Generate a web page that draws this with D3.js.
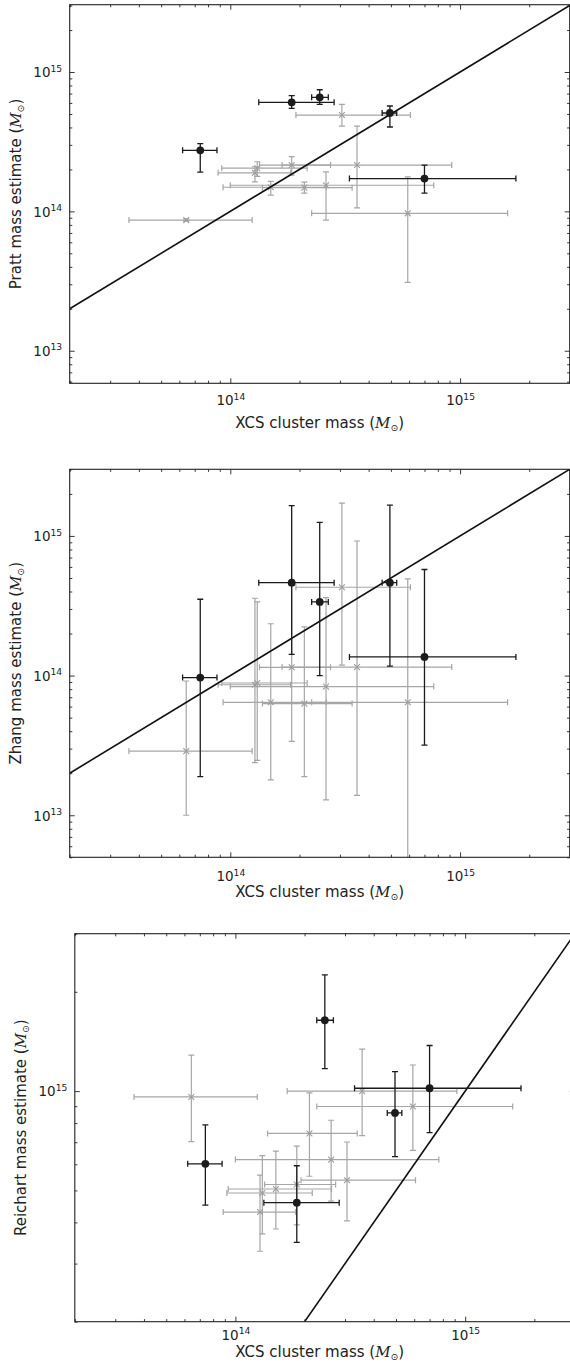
<!DOCTYPE html>
<html>
<head>
<meta charset="utf-8">
<script src="https://cdn.jsdelivr.net/npm/d3@7"></script>
<style>
  html, body { margin: 0; padding: 0; background: #fff; }
  svg { display: block; }
</style>
</head>
<body>
<script>
// ---- XCS cluster masses (shared by all three panels) ----
// clusters drawn as filled circles
const xcsBlack   = [7.40e13, 1.85e14, 2.45e14, 4.95e14, 7.00e14];
const xcsBlackLo = [6.20e13, 1.33e14, 2.26e14, 4.58e14, 3.30e14];
const xcsBlackHi = [8.75e13, 2.83e14, 2.67e14, 5.30e14, 1.75e15];
// clusters drawn as crosses
const xcsGray   = [6.43e13, 1.28e14, 1.31e14, 1.50e14, 1.85e14, 2.10e14, 2.61e14, 3.06e14, 3.56e14, 5.92e14];
const xcsGrayLo = [3.62e13, 8.85e13, 9.18e13, 9.30e13, 1.34e14, 1.38e14, 1.00e14, 1.93e14, 1.68e14, 2.26e14];
const xcsGrayHi = [1.245e14, 1.83e14, 2.16e14, 2.62e14, 2.73e14, 3.39e14, 7.68e14, 6.08e14, 9.20e14, 1.61e15];

// ---- Pratt estimates ----
const prattBlack   = [2.74e14, 6.06e14, 6.58e14, 5.08e14, 1.72e14];
const prattBlackLo = [1.91e14, 5.48e14, 5.86e14, 4.03e14, 1.35e14];
const prattBlackHi = [3.06e14, 6.76e14, 7.46e14, 5.70e14, 2.15e14];
const prattGray    = [8.66e13, 1.89e14, 2.04e14, 1.49e14, 2.15e14, 1.48e14, 1.54e14, 4.91e14, 2.15e14, 9.68e13];
const prattGrayLo  = [8.50e13, 1.63e14, 1.78e14, 1.31e14, 1.82e14, 1.35e14, 8.66e13, 4.09e14, 1.06e14, 3.09e13];
const prattGrayHi  = [8.85e13, 2.09e14, 2.27e14, 1.64e14, 2.47e14, 1.62e14, 1.92e14, 5.86e14, 4.09e14, 1.77e14];

// ---- Zhang estimates ----
const zhangBlack   = [9.68e13, 4.63e14, 3.37e14, 4.63e14, 1.36e14];
const zhangBlackLo = [1.89e13, 1.42e14, 1.00e14, 1.17e14, 3.18e13];
const zhangBlackHi = [3.52e14, 1.65e15, 1.25e15, 1.66e15, 5.75e14];
const zhangGray    = [2.88e13, 8.60e13, 8.85e13, 6.44e13, 1.147e14, 6.30e13, 8.34e13, 4.29e14, 1.15e14, 6.44e13];
const zhangGrayLo  = [1.00e13, 2.38e13, 2.47e13, 1.79e13, 3.38e13, 1.89e13, 1.29e13, 1.19e14, 1.39e13, 1.00e12];
const zhangGrayHi  = [9.15e13, 3.58e14, 3.37e14, 2.35e14, 4.42e14, 2.23e14, 3.62e14, 1.72e15, 9.20e14, 4.92e14];

// ---- Reichart estimates ----
const reichBlack   = [6.02e14, 4.59e14, 1.64e15, 8.59e14, 1.02e15];
const reichBlackLo = [4.51e14, 3.48e14, 1.17e15, 6.33e14, 7.48e14];
const reichBlackHi = [7.90e14, 5.94e14, 2.25e15, 1.145e15, 1.375e15];
const reichGray    = [9.60e14, 4.30e14, 4.91e14, 5.05e14, 5.21e14, 7.44e14, 6.20e14, 5.37e14, 1.00e15, 8.98e14];
const reichGrayLo  = [7.03e14, 3.27e14, 3.69e14, 3.82e14, 3.93e14, 5.52e14, 4.64e14, 4.04e14, 7.33e14, 6.61e14];
const reichGrayHi  = [1.286e15, 5.56e14, 6.37e14, 6.58e14, 6.81e14, 9.88e14, 8.16e14, 7.01e14, 1.34e15, 1.20e15];

// ---- axis text ----
const xTitle = "XCS cluster mass";
const yTitles = ["Pratt mass estimate", "Zhang mass estimate", "Reichart mass estimate"];
const xDomain = [2e13, 3e15];
const oneToOne = [2e13, 3e15];   // endpoints of the y = x relation

// ---- panel layout ----
const panels = [
  { title: yTitles[0], left: 69.7, right: 569.7, top: 4.7,   bottom: 383.3,  yDomain: [5.84e12, 3.04e15],
    tickBase: 22, titleBase: 45,
    black: [prattBlack, prattBlackLo, prattBlackHi], gray: [prattGray, prattGrayLo, prattGrayHi] },
  { title: yTitles[1], left: 69.7, right: 569.7, top: 469.3, bottom: 857.3,  yDomain: [5e12, 3e15],
    tickBase: 24, titleBase: 40,
    black: [zhangBlack, zhangBlackLo, zhangBlackHi], gray: [zhangGray, zhangGrayLo, zhangGrayHi] },
  { title: yTitles[2], left: 74.8, right: 574.8, top: 933.7, bottom: 1321.7, yDomain: [2e14, 3e15],
    tickBase: 18, titleBase: 35,
    black: [reichBlack, reichBlackLo, reichBlackHi], gray: [reichGray, reichGrayLo, reichGrayHi] }
];

const W = 570, H = 1365;
const INK = "#222";
const BLACK = "#1b1b1b";
const GRAY_BAR = "#a6a6a6";
const GRAY_MARK = "#9c9c9c";
const MAJOR = 5, MINOR = 2.6;
const TICK_FONT = 13.5, LABEL_FONT = 15;

const svg = d3.select("body").append("svg")
  .attr("width", W).attr("height", H)
  .attr("font-family", "'DejaVu Sans', sans-serif");

const isPow10 = v => Math.abs(Math.log10(v) - Math.round(Math.log10(v))) < 1e-9;

function powerLabel(sel) {
  sel.each(function (d) {
    const t = d3.select(this);
    const e = Math.round(Math.log10(d));
    t.text(null);
    t.append("tspan").text("10");
    t.append("tspan").attr("dy", "-0.62em").attr("font-size", "0.68em").text(e);
  });
}

function addTitle(t, main) {
  t.append("tspan").text(main + " (");
  t.append("tspan").attr("font-family", "'DejaVu Serif', serif").attr("font-style", "italic").text("M");
  t.append("tspan").attr("dy", "0.32em").attr("font-size", "0.62em").text("\u2299");
  t.append("tspan").attr("dy", "-0.2em").text(")");
}

panels.forEach((p, k) => {
  const x = d3.scaleLog().domain(xDomain).range([p.left, p.right]);
  const y = d3.scaleLog().domain(p.yDomain).range([p.bottom, p.top]);
  const g = svg.append("g");

  const clipId = "clip" + k;
  g.append("clipPath").attr("id", clipId).append("rect")
    .attr("x", p.left).attr("y", p.top)
    .attr("width", p.right - p.left).attr("height", p.bottom - p.top);
  const plot = g.append("g").attr("clip-path", `url(#${clipId})`);

  // error bars for one group of clusters
  function drawSet(xs, xlo, xhi, set, color, width, cap) {
    const [ys, ylo, yhi] = set;
    plot.append("g").selectAll("path").data(d3.range(xs.length)).join("path")
      .attr("fill", "none").attr("stroke", color).attr("stroke-width", width)
      .attr("d", i => {
        const cx = x(xs[i]), cy = y(ys[i]);
        const y0 = y(ylo[i]), y1 = y(yhi[i]);
        const x0 = x(xlo[i]), x1 = x(xhi[i]);
        return `M${cx},${y0}V${y1}M${x0},${cy}H${x1}` +
          `M${cx - cap},${y0}h${2 * cap}M${cx - cap},${y1}h${2 * cap}` +
          `M${x0},${cy - cap}v${2 * cap}M${x1},${cy - cap}v${2 * cap}`;
      });
  }

  drawSet(xcsGray, xcsGrayLo, xcsGrayHi, p.gray, GRAY_BAR, 1.2, 3);
  plot.append("g").selectAll("path").data(d3.range(xcsGray.length)).join("path")
    .attr("transform", i => `translate(${x(xcsGray[i])},${y(p.gray[0][i])})`)
    .attr("d", d3.symbol(d3.symbolX, 24))
    .attr("fill", "none").attr("stroke", GRAY_MARK).attr("stroke-width", 1.1);

  // y = x relation
  plot.append("line")
    .attr("x1", x(oneToOne[0])).attr("y1", y(oneToOne[0]))
    .attr("x2", x(oneToOne[1])).attr("y2", y(oneToOne[1]))
    .attr("stroke", "#111").attr("stroke-width", 1.6);

  drawSet(xcsBlack, xcsBlackLo, xcsBlackHi, p.black, BLACK, 1.3, 3);
  plot.append("g").selectAll("circle").data(d3.range(xcsBlack.length)).join("circle")
    .attr("cx", i => x(xcsBlack[i])).attr("cy", i => y(p.black[0][i]))
    .attr("r", 3.9).attr("fill", BLACK);

  // ticks (inward, on all four sides)
  const xt = x.ticks(), yt = y.ticks();
  const xMaj = xt.filter(isPow10), xMin = xt.filter(v => !isPow10(v));
  const yMaj = yt.filter(isPow10), yMin = yt.filter(v => !isPow10(v));

  function axisGroup(axis, tx, ty) {
    const a = g.append("g").attr("transform", `translate(${tx},${ty})`).call(axis);
    a.attr("color", INK).attr("font-size", TICK_FONT).attr("font-family", "'DejaVu Sans', sans-serif");
    a.select(".domain").remove();
    a.selectAll("line").attr("stroke-width", 0.9);
    return a;
  }
  axisGroup(d3.axisBottom(x).tickValues(xMin).tickSize(-MINOR).tickFormat(""), 0, p.bottom);
  axisGroup(d3.axisTop(x).tickValues(xMin).tickSize(-MINOR).tickFormat(""), 0, p.top);
  axisGroup(d3.axisTop(x).tickValues(xMaj).tickSize(-MAJOR).tickFormat(""), 0, p.top);
  axisGroup(d3.axisLeft(y).tickValues(yMin).tickSize(-MINOR).tickFormat(""), p.left, 0);
  axisGroup(d3.axisRight(y).tickValues(yMin).tickSize(-MINOR).tickFormat(""), p.right, 0);
  axisGroup(d3.axisRight(y).tickValues(yMaj).tickSize(-MAJOR).tickFormat(""), p.right, 0);

  const bx = axisGroup(d3.axisBottom(x).tickValues(xMaj).tickSize(-MAJOR), 0, p.bottom);
  bx.selectAll("text").attr("y", p.tickBase).attr("dy", null).attr("fill", INK).call(powerLabel);
  const ly = axisGroup(d3.axisLeft(y).tickValues(yMaj).tickSize(-MAJOR), p.left, 0);
  ly.selectAll("text").attr("x", -7.5).attr("dy", "0.36em").attr("fill", INK).call(powerLabel);

  // frame
  g.append("rect")
    .attr("x", p.left).attr("y", p.top)
    .attr("width", p.right - p.left).attr("height", p.bottom - p.top)
    .attr("fill", "none").attr("stroke", INK).attr("stroke-width", 1.1);

  // axis titles
  const xt2 = g.append("text")
    .attr("x", (p.left + Math.min(p.right, 569.7)) / 2 - (k === 2 ? 2.5 : 0)).attr("y", p.bottom + p.titleBase)
    .attr("text-anchor", "middle").attr("font-size", LABEL_FONT).attr("fill", INK);
  addTitle(xt2, xTitle);

  const yt2 = g.append("text")
    .attr("transform", `translate(${p.left - 48.5},${(p.top + p.bottom) / 2}) rotate(-90)`)
    .attr("text-anchor", "middle").attr("font-size", LABEL_FONT).attr("fill", INK);
  addTitle(yt2, p.title);
});
</script>
</body>
</html>
